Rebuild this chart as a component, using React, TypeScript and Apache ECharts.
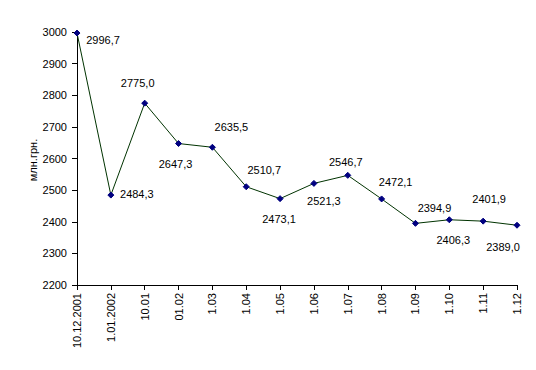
import React, { useEffect, useRef } from "react";
import * as echarts from "echarts";

const categories = [
  "10.12.2001",
  "1.01.2002",
  "10.01",
  "01.02",
  "1.03",
  "1.04",
  "1.05",
  "1.06",
  "1.07",
  "1.08",
  "1.09",
  "1.10",
  "1.11",
  "1.12",
];

const values = [
  2996.7, 2484.3, 2775.0, 2647.3, 2635.5, 2510.7, 2473.1, 2521.3, 2546.7,
  2472.1, 2394.9, 2406.3, 2401.9, 2389.0,
];

const yAxisTitle = "млн.грн.";

// label offsets (label center relative to point)
const labelOffsets: [number, number][] = [
  [26, 7],
  [26, -1],
  [-7, -20],
  [-3, 20],
  [19, -20],
  [18, -17],
  [-1, 20],
  [10, 18],
  [-2, -13],
  [14, -17],
  [19, -15],
  [4, 20],
  [6, -22],
  [-14, 22],
];

const FONT = "'Liberation Sans', Arial, sans-serif";

export default function App() {
  const ref = useRef<HTMLDivElement>(null);
  useEffect(() => {
    document.body.style.margin = "0";
    const chart = echarts.init(ref.current!, undefined, { renderer: "svg" });
    chart.setOption({
      animation: false,
      backgroundColor: "#ffffff",
      grid: { left: 77, right: 19, top: 32, bottom: 85, containLabel: false },
      graphic: [
        {
          type: "text",
          x: 33,
          y: 160,
          rotation: Math.PI / 2,
          style: {
            text: yAxisTitle,
            align: "center",
            verticalAlign: "middle",
            fill: "#000",
            font: `11px ${FONT}`,
          },
        },
      ],
      xAxis: {
        type: "category",
        data: categories,
        boundaryGap: false,
        axisLine: { lineStyle: { color: "#000", width: 1 } },
        axisTick: { show: true, length: 5, interval: 0, lineStyle: { color: "#000" } },
        axisLabel: {
          interval: 0,
          rotate: 90,
          margin: 8,
          color: "#000",
          fontFamily: FONT,
          fontSize: 11,
        },
        splitLine: { show: false },
      },
      yAxis: {
        type: "value",
        min: 2200,
        max: 3000,
        interval: 100,
        axisLine: { show: true, lineStyle: { color: "#000", width: 1 } },
        axisTick: { show: true, length: 5, lineStyle: { color: "#000" } },
        axisLabel: {
          margin: 10,
          color: "#000",
          fontFamily: FONT,
          fontSize: 11,
          formatter: (v: number) => String(v),
        },
        splitLine: { show: false },
      },
      series: [
        {
          type: "line",
          data: values.map((v, i) => ({
            value: v,
            label: { offset: labelOffsets[i] },
          })),
          symbol: "diamond",
          symbolSize: 6,
          lineStyle: { color: "#003300", width: 1 },
          itemStyle: { color: "#000080", borderColor: "#000080" },
          label: {
            show: true,
            position: "inside",
            align: "center",
            verticalAlign: "middle",
            color: "#000",
            fontFamily: FONT,
            fontSize: 11,
            formatter: (p: any) => Number(p.value).toFixed(1).replace(".", ","),
          },
        },
      ],
    });
    return () => chart.dispose();
  }, []);
  return <div ref={ref} style={{ width: 536, height: 370 }} />;
}
